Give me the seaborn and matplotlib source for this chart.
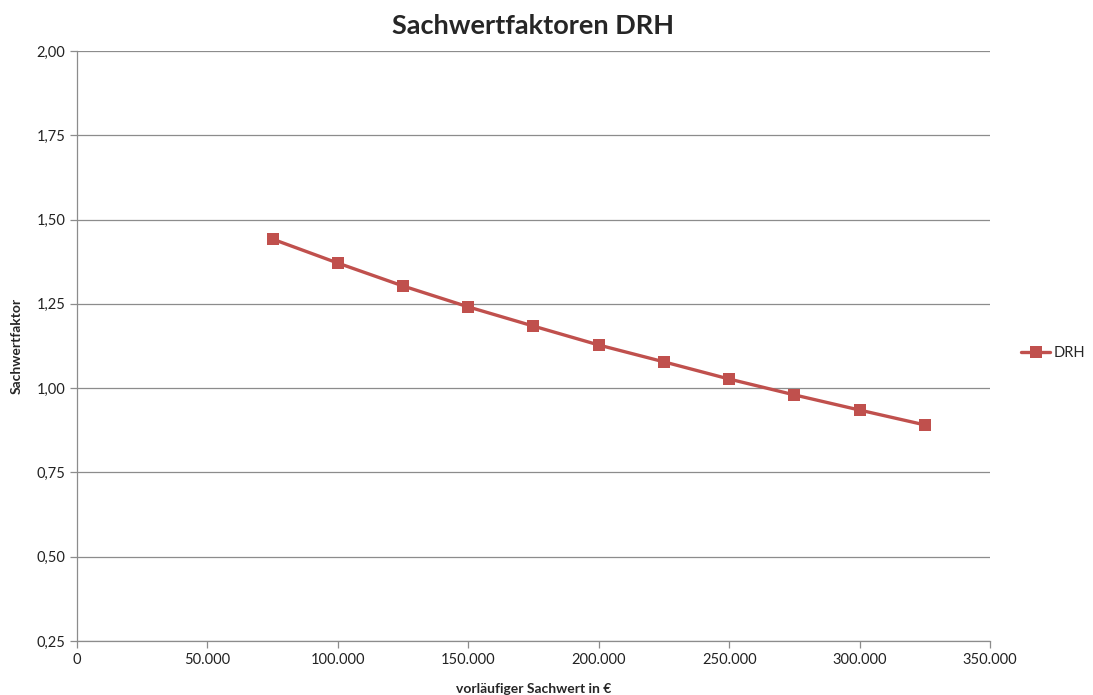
import matplotlib
matplotlib.use("Agg")
import matplotlib.pyplot as plt
from matplotlib.ticker import FuncFormatter, MultipleLocator
import seaborn as sns
import pandas as pd

# Vorläufiger Sachwert (EUR) und zugehöriger Sachwertfaktor für DRH
sachwert = [75000, 100000, 125000, 150000, 175000, 200000, 225000, 250000, 275000, 300000, 325000]
faktor = [1.442, 1.371, 1.303, 1.241, 1.184, 1.128, 1.078, 1.027, 0.980, 0.935, 0.891]
series_name = "DRH"

df = pd.DataFrame({"Sachwert": sachwert, "Faktor": faktor, "Reihe": series_name})

sns.set_theme(style="white")
plt.rcParams["font.family"] = ["Lato", "DejaVu Sans"]

fig = plt.figure(figsize=(10.93, 6.95), dpi=100)
ax = fig.add_axes([0.0704, 0.0777, 0.8354, 0.8489])

red = "#C0504D"
sns.lineplot(data=df, x="Sachwert", y="Faktor", hue="Reihe", palette=[red],
             marker="s", markersize=8, markeredgewidth=0, linewidth=2.4, ax=ax)

ax.set_xlim(0, 350000)
ax.set_ylim(0.25, 2.0)
ax.xaxis.set_major_locator(MultipleLocator(50000))
ax.yaxis.set_major_locator(MultipleLocator(0.25))
ax.xaxis.set_major_formatter(FuncFormatter(lambda v, p: f"{int(v):,}".replace(",", ".")))
ax.yaxis.set_major_formatter(FuncFormatter(lambda v, p: f"{v:.2f}".replace(".", ",")))

ax.grid(axis="y", color="#8c8c8c", linewidth=0.9)
ax.set_axisbelow(True)
for side in ("top", "right"):
    ax.spines[side].set_visible(False)
for side in ("left", "bottom"):
    ax.spines[side].set_color("#8c8c8c")
    ax.spines[side].set_linewidth(0.9)
ax.tick_params(axis="both", which="major", length=5, width=0.9, color="#8c8c8c",
               direction="out", labelsize=10.5, labelcolor="#222222", bottom=True, left=True)

ax.set_xlabel("vorläufiger Sachwert in €", fontsize=10, fontweight="bold", labelpad=12)
ax.set_ylabel("Sachwertfaktor", fontsize=10, fontweight="bold", labelpad=10)
ax.set_title("Sachwertfaktoren DRH", fontsize=19.5, fontweight="bold", pad=12)

ax.legend(loc="center left", bbox_to_anchor=(1.034, 0.488), frameon=False,
          borderaxespad=0, borderpad=0, fontsize=10.5, handlelength=2.0,
          handletextpad=0.2)

fig.savefig("out.png", dpi=100)
